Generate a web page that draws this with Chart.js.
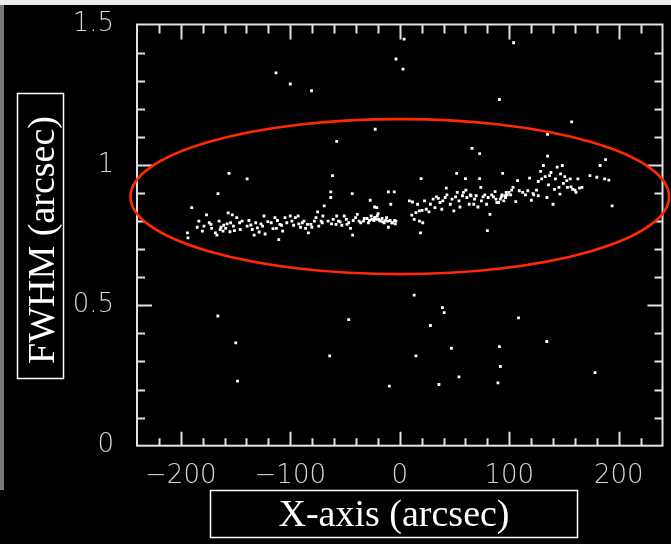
<!DOCTYPE html>
<html>
<head>
<meta charset="utf-8">
<script src="https://cdn.jsdelivr.net/npm/chart.js@4/dist/chart.umd.min.js"></script>
<style>
  html, body { margin: 0; padding: 0; background: #000; }
  #wrap { width: 671px; height: 544px; }
</style>
</head>
<body>
<div id="wrap"><canvas id="c" width="671" height="544"></canvas></div>
<script>
// ---- Data ----
const xTickLabels = [-200, -100, 0, 100, 200];
const yTickLabels = [0, 0.5, 1, 1.5];
const xTitle = 'X-axis (arcsec)';
const yTitle = 'FWHM (arcsec)';

// main band, left part (x < 0)
const bandLeftX = [-185,-180.3,-176.5,-174,-171.8,-165,-163.3,-161.4,-159,-156.7,-153,-154.5,-151,-167,-144,-137.8,-136,-133,-130,-126.8,-124,-123,-117.4,-114,-112.7,-109.5,-107,-100,-95.4,-92.2,-89,-86,-83.4,-81.2,-78,-75,-70.8,-70.2,-65.5,-62.3,-57.6,-54.5,-50.7,-48.2,-45,-38.7,-37.1,-32.4,-27.7,-23,-19.8,-18.3,-15.1,-12,-10.4,-7.3,-4.7,-21.4,-24.6,-26.1,
  -183.5,-178.8,-172.5,-168.4,-164,-160.8,-157.7,-155.1,-152,-148.9,-145.7,-146.3,
  -139.4,-134.7,-131.5,-128.4,-125.3,-120.5,-115.8,-111.7,-108,-104.8,-103.2,
  -98.5,-96.9,-92.8,-90.6,-87.5,-84.3,-80.3,-76.5,-74,-71.8,
  -60.8,-58.2,-56,-52.9,-48.8,-46.6,-42.5,-40.3,-35.6,-33.1,-29.9,-28.7,
  -25.5,-23.6,-22.4,-20.5,-19.2,-17.3,-16.1,-14.2,-12.9,-11,-8.8,-6.6,-4.1,-3.5,
  -63,-63,-43.4,-69,-23,-27,-10.4,-5,-8.2,-43,-110.5,-193.5,-194,-190,-166,-21,8.8];
const bandLeftY = [0.778,0.764,0.822,0.794,0.774,0.800,0.778,0.764,0.774,0.829,0.822,0.794,0.766,0.750,0.800,0.802,0.786,0.750,0.776,0.790,0.818,0.754,0.794,0.812,0.774,0.788,0.764,0.818,0.812,0.790,0.794,0.774,0.758,0.788,0.800,0.833,0.794,0.818,0.800,0.790,0.818,0.797,0.818,0.788,0.774,0.824,0.800,0.809,0.802,0.812,0.826,0.802,0.797,0.812,0.778,0.794,0.802,0.806,0.806,0.818,
  0.800,0.782,0.788,0.758,0.770,0.785,0.790,0.762,0.782,0.812,0.770,0.794,
  0.782,0.770,0.794,0.761,0.782,0.798,0.773,0.802,0.785,0.812,0.794,
  0.800,0.785,0.818,0.778,0.800,0.788,0.778,0.812,0.782,0.800,
  0.806,0.788,0.800,0.785,0.806,0.794,0.802,0.812,0.794,0.800,0.809,0.794,
  0.806,0.802,0.812,0.818,0.806,0.800,0.809,0.794,0.802,0.800,0.802,0.794,0.790,0.800,
  0.904,0.884,0.898,0.854,0.850,0.874,0.904,0.904,0.860,0.750,0.734,0.740,0.758,0.848,0.898,0.848,0.872];

// main band, right part (x > 0)
const bandRightX = [11,13.2,14.8,18,21,11.6,16.3,20.4,22.6,26.7,30.5,33.6,36.8,38.4,41.5,42.5,46.2,49.4,52.5,55,57.3,60.4,63.5,65,68.3,71.4,74,76.1,79.3,82.4,84,87.1,88.7,91.8,93.4,95,96.6,98.2,99.7,102.2,103.5,106,107.6,112.3,117,118.6,120.2,122.4,124.9,126.5,126.5,128.7,131.2,132.8,134.4,135.9,138.1,140,141.3,143.8,146.3,146.9,148.5,150.7,153.2,155.7,157.9,161,162.7,166.4,173.7,180,187.2,191,
  17.9,24.2,28,32.1,35.2,39.3,43.1,47.8,51,54.1,58.2,61.3,64.5,67.6,69.8,74.6,77.7,80.8,85.6,87.8,90.3,92.8,96,97.2,101.3,109.2,114.8,121.8,129.6,136.9,142.2,145.4,149.5,152.6,156.4,160.1,164.2,
  52,60,73,19.5,94,183,194,135,188,80,19];
const bandRightY = [0.821,0.806,0.830,0.800,0.794,0.868,0.860,0.838,0.872,0.833,0.878,0.886,0.866,0.842,0.884,0.917,0.860,0.836,0.902,0.850,0.890,0.910,0.860,0.890,0.878,0.850,0.920,0.886,0.860,0.824,0.893,0.905,0.866,0.878,0.893,0.872,0.884,0.893,0.902,0.910,0.920,0.869,0.944,0.902,0.908,0.953,0.874,0.893,0.910,0.890,0.941,0.977,0.998,0.958,0.884,0.929,0.973,0.860,0.913,0.992,0.896,0.968,0.998,0.958,0.920,0.950,0.913,0.902,0.950,0.920,0.962,0.956,0.950,0.946,
  0.836,0.842,0.860,0.848,0.881,0.872,0.893,0.878,0.886,0.872,0.902,0.884,0.893,0.860,0.890,0.872,0.893,0.884,0.886,0.878,0.866,0.886,0.890,0.902,0.893,0.908,0.893,0.898,0.950,0.962,0.950,0.920,0.934,0.944,0.922,0.910,0.917,
  0.970,0.951,0.951,0.951,0.970,0.998,0.854,1.031,1.019,0.766,0.758];

// scattered outliers above and below the band
const outlierX = [4,104,-3.4,3,-113,-100,-80.6,91,157,135,-22.4,-57.6,66,73,-156,-139.4,-61.4,
  13.2,39,40.6,-166.2,-46.6,108.5,28,-149.8,134.3,47.2,91,-64,14.8,91.9,178.4,54.1,-148.2,-9.5,35.8,89.7];
const outlierY = [1.448,1.435,1.377,1.341,1.328,1.288,1.264,1.233,1.153,1.109,1.127,1.084,1.059,1.040,0.970,0.950,0.962,
  0.536,0.492,0.474,0.462,0.449,0.455,0.428,0.366,0.371,0.347,0.353,0.320,0.320,0.282,0.260,0.245,0.230,0.212,0.218,0.224];

// highlighted region (ellipse), in data units
const ellipseCenter = [0, 0.887];
const ellipseRadii = [246, 0.276];

function toPoints(xs, ys) { return xs.map((x, i) => ({ x: x, y: ys[i] })); }
const allPoints = toPoints(bandLeftX, bandLeftY)
  .concat(toPoints(bandRightX, bandRightY))
  .concat(toPoints(outlierX, outlierY));

const FRAME = '#e2e2e2';
const TICKFONT = { family: "'DejaVu Sans'", size: 26, weight: '200' };

const framePlugin = {
  id: 'framePlugin',
  beforeDraw(chart) {
    const ctx = chart.ctx;
    ctx.save();
    ctx.fillStyle = '#000';
    ctx.fillRect(0, 0, chart.width, chart.height);
    ctx.fillStyle = '#ececec';
    ctx.fillRect(0, 0, chart.width, 5);
    ctx.fillStyle = '#7a7a7a';
    ctx.fillRect(0, 5, 4, 485);
    ctx.restore();
  },
  afterDatasetsDraw(chart) {
    const ctx = chart.ctx;
    const xs = chart.scales.x, ys = chart.scales.y;
    const a = chart.chartArea;
    ctx.save();
    // frame
    ctx.strokeStyle = FRAME;
    ctx.lineWidth = 2;
    ctx.strokeRect(a.left, a.top, a.right - a.left, a.bottom - a.top);
    // inward ticks, all four sides
    ctx.beginPath();
    for (let v = -220; v <= 220; v += 20) {
      const px = Math.round(xs.getPixelForValue(v)) + 0.5;
      const len = (v % 100 === 0) ? 14 : 7.5;
      ctx.moveTo(px, a.bottom); ctx.lineTo(px, a.bottom - len);
      ctx.moveTo(px, a.top); ctx.lineTo(px, a.top + (v % 100 === 0 ? 15 : 9));
    }
    for (let k = 1; k < 15; k++) {
      const v = k / 10;
      const py = Math.round(ys.getPixelForValue(v)) + 0.5;
      const len = (k % 5 === 0) ? 15 : 8;
      ctx.moveTo(a.left, py); ctx.lineTo(a.left + len, py);
      ctx.moveTo(a.right, py); ctx.lineTo(a.right - len, py);
    }
    ctx.stroke();
    // red ellipse
    const cx = xs.getPixelForValue(ellipseCenter[0]);
    const cy = ys.getPixelForValue(ellipseCenter[1]);
    const rx = xs.getPixelForValue(ellipseCenter[0] + ellipseRadii[0]) - cx;
    const ry = cy - ys.getPixelForValue(ellipseCenter[1] + ellipseRadii[1]);
    ctx.strokeStyle = '#ff2a00';
    ctx.lineWidth = 2.6;
    ctx.beginPath();
    ctx.ellipse(cx, cy, rx, ry, 0, 0, Math.PI * 2);
    ctx.stroke();
    // axis titles in boxes
    ctx.strokeStyle = '#ffffff';
    ctx.lineWidth = 1.5;
    ctx.strokeRect(210.5, 490.5, 367, 47);
    ctx.strokeRect(17.5, 93.5, 46, 285);
    ctx.fillStyle = '#ffffff';
    ctx.font = "38px 'Liberation Serif'";
    ctx.textAlign = 'center';
    ctx.textBaseline = 'middle';
    ctx.fillText(xTitle, 394, 516);
    ctx.save();
    ctx.translate(42, 240);
    ctx.rotate(-Math.PI / 2);
    ctx.fillText(yTitle, 0, 2);
    ctx.restore();
    ctx.restore();
  }
};

new Chart(document.getElementById('c'), {
  type: 'scatter',
  data: {
    datasets: [{
      data: allPoints,
      pointStyle: 'rect',
      pointRadius: 2,
      pointBorderWidth: 0,
      backgroundColor: '#ffffff',
      borderColor: '#ffffff'
    }]
  },
  options: {
    responsive: false,
    animation: false,
    events: [],
    layout: { padding: { top: 24.5, right: 8.5, left: 0, bottom: 0 } },
    plugins: { legend: { display: false }, tooltip: { enabled: false } },
    scales: {
      x: {
        type: 'linear', min: -240, max: 240,
        border: { display: false },
        grid: { display: false, drawTicks: false },
        afterBuildTicks: (s) => { s.ticks = xTickLabels.map(v => ({ value: v })); },
        afterFit: (s) => { s.height = 544 - 445.7; s.paddingLeft = 0; s.paddingRight = 0; },
        ticks: {
          autoSkip: false, maxRotation: 0, padding: 15, color: '#d4d4d4', font: TICKFONT,
          callback: (v) => (v < 0 ? '\u2212' + Math.abs(v) : String(v))
        }
      },
      y: {
        type: 'linear', min: 0, max: 1.5,
        border: { display: false },
        grid: { display: false, drawTicks: false },
        afterBuildTicks: (s) => { s.ticks = yTickLabels.map(v => ({ value: v })); },
        afterFit: (s) => { s.width = 137; s.paddingTop = 0; s.paddingBottom = 0; },
        ticks: {
          autoSkip: false, padding: 23, color: '#d4d4d4', font: TICKFONT,
          callback: (v) => String(v)
        }
      }
    }
  },
  plugins: [framePlugin]
});
</script>
</body>
</html>
